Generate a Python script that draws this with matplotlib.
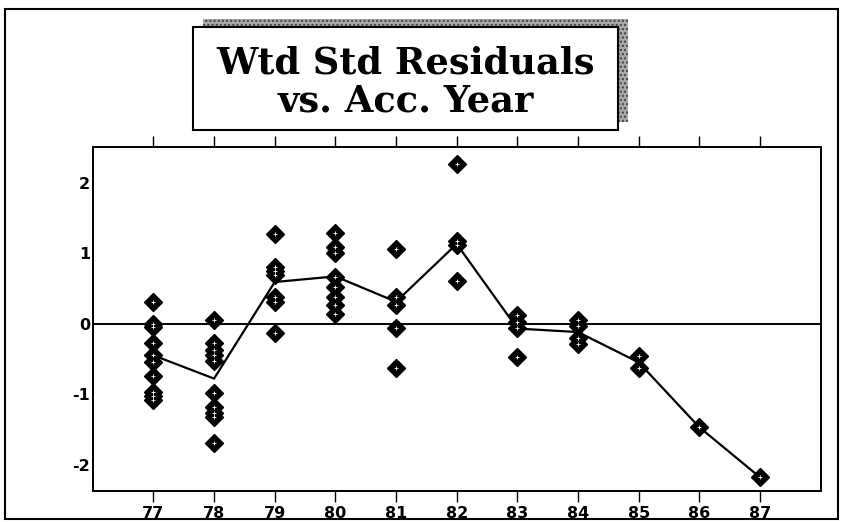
import matplotlib
matplotlib.use("Agg")
import matplotlib.pyplot as plt
import matplotlib.patches as patches

# accident years and weighted standardized residuals per year
years = [77, 78, 79, 80, 81, 82, 83, 84, 85, 86, 87]
residuals = {
    77: [0.30, 0.00, -0.05, -0.27, -0.45, -0.55, -0.75, -0.97, -1.03, -1.08],
    78: [0.05, -0.27, -0.37, -0.45, -0.53, -0.98, -1.18, -1.27, -1.33, -1.70],
    79: [1.27, 0.80, 0.75, 0.69, 0.38, 0.31, -0.14],
    80: [1.28, 1.09, 1.00, 0.66, 0.52, 0.38, 0.26, 0.14],
    81: [1.06, 0.38, 0.27, -0.06, -0.63],
    82: [2.27, 1.17, 1.12, 0.61],
    83: [0.12, 0.02, -0.06, -0.48],
    84: [0.05, -0.04, -0.20, -0.29],
    85: [-0.46, -0.63],
    86: [-1.47],
    87: [-2.18],
}
# average residual per year (connecting line)
avg_resid = [-0.45, -0.78, 0.59, 0.67, 0.31, 1.13, -0.07, -0.12, -0.55, -1.47, -2.18]

title_lines = ["Wtd Std Residuals", "vs. Acc. Year"]

fig = plt.figure(figsize=(8.43, 5.22), dpi=100)
ax = fig.add_axes([0.110, 0.060, 0.8635, 0.659])

# scatter of residuals: black diamonds with a small white centre
xs, ys = [], []
for yr in years:
    for v in residuals[yr]:
        xs.append(yr)
        ys.append(v)
ax.plot(years, avg_resid, color="black", lw=1.6, zorder=2)
ax.axhline(0, color="black", lw=1.4, zorder=1)
ax.plot(xs, ys, ls="none", marker="D", ms=9, color="black", zorder=3)
ax.plot(xs, ys, ls="none", marker="+", ms=2.8, mew=0.6, color="white", zorder=4)

ax.set_xlim(76, 88)
ax.set_ylim(-2.37, 2.51)
ax.set_xticks(years)
ax.set_xticklabels([str(y) for y in years], fontsize=11.5, fontweight="bold",
                   family="DejaVu Sans")
ax.set_yticks([-2, -1, 0, 1, 2])
ax.set_yticklabels(["-2", "-1", "0", "1", "2"], fontsize=11.5, fontweight="bold",
                   family="DejaVu Sans")
ax.tick_params(axis="x", which="both", direction="out", length=8, width=1,
               top=True, labeltop=False, pad=3)
ax.tick_params(axis="y", length=0, pad=2)
for sp in ax.spines.values():
    sp.set_linewidth(1.4)

# outer frame around the whole figure
fig.patches.append(patches.Rectangle((5 / 843, 1 - 519 / 522), 833 / 843, 510 / 522,
                                     transform=fig.transFigure, fill=False,
                                     edgecolor="black", lw=1.5))

# title box with a dithered drop shadow
shadow = patches.Rectangle((203 / 843, 1 - 122 / 522), 425 / 843, 103 / 522,
                           transform=fig.transFigure, facecolor="#a8a8a8",
                           edgecolor="#404040", hatch="....", lw=0)
box = patches.Rectangle((193 / 843, 1 - 130 / 522), 425 / 843, 103 / 522,
                        transform=fig.transFigure, facecolor="white",
                        edgecolor="black", lw=1.5)
fig.patches.append(shadow)
fig.patches.append(box)

fig.text(0.481, 1 - 63 / 522, title_lines[0], ha="center", va="center",
         fontsize=26.5, fontweight="bold", family="DejaVu Serif")
fig.text(0.481, 1 - 102 / 522, title_lines[1], ha="center", va="center",
         fontsize=26.5, fontweight="bold", family="DejaVu Serif")

fig.savefig("out.png", dpi=100)
